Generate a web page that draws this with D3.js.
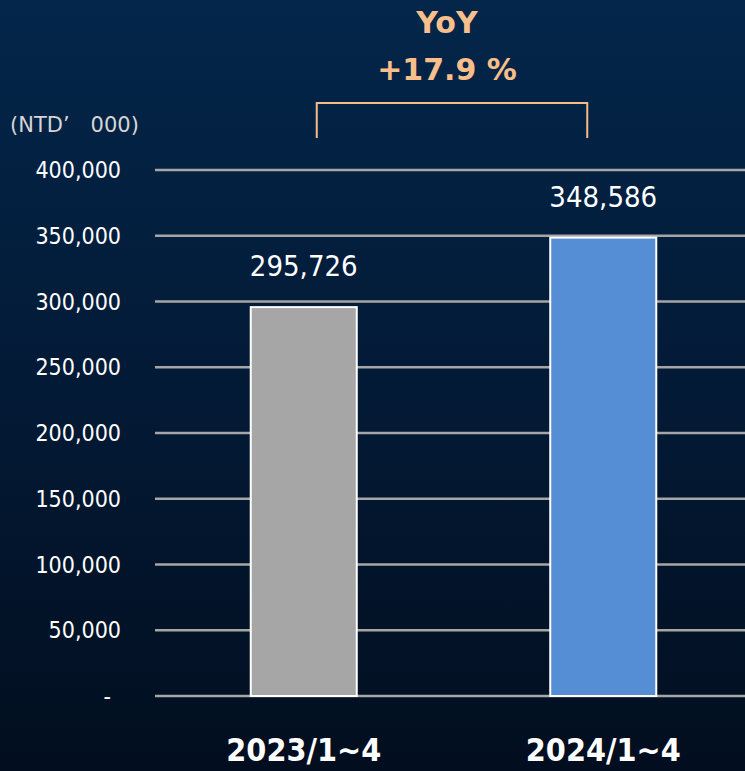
<!DOCTYPE html>
<html><head><meta charset="utf-8">
<script src="https://cdn.jsdelivr.net/npm/d3@7"></script>
<style>
html,body{margin:0;padding:0;background:#020e1f;}
svg{display:block;}
</style></head>
<body>
<svg id="chart" width="745" height="771"></svg>
<script>
const categories = ["2023/1~4", "2024/1~4"];
const values = [295726, 348586];
const barColors = ["#a6a6a6", "#558ed5"];
const tickValues = [0, 50000, 100000, 150000, 200000, 250000, 300000, 350000, 400000];
const yoyTitle = "YoY";
const yoyValue = "+17.9 %";
const unitLabel = "(NTD\u2019\u3000000)";

const W = 745, H = 771;
const svg = d3.select("#chart");
const font = "'DejaVu Sans Condensed','DejaVu Sans',sans-serif";
const fontWide = "'DejaVu Sans',sans-serif";

const defs = svg.append("defs");
const grad = defs.append("linearGradient").attr("id","bg").attr("x1",0).attr("y1",0).attr("x2",0).attr("y2",1);
grad.append("stop").attr("offset","0%").attr("stop-color","#03264a");
grad.append("stop").attr("offset","50%").attr("stop-color","#031a36");
grad.append("stop").attr("offset","100%").attr("stop-color","#020e1f");
svg.append("rect").attr("width",W).attr("height",H).attr("fill","url(#bg)");

const x = d3.scaleBand().domain(categories).range([154, 753]).paddingInner(0.646).paddingOuter(0.323);
const y = d3.scaleLinear().domain([0, 400000]).range([696, 170]);

// gridlines
svg.append("g").selectAll("line").data(tickValues).join("line")
  .attr("x1", 155).attr("x2", W)
  .attr("y1", d => y(d)).attr("y2", d => y(d))
  .attr("stroke", "#a6a6a6").attr("stroke-width", 2.4);

// y axis labels
const fmt = d3.format(",");
svg.append("g").selectAll("text").data(tickValues).join("text")
  .attr("x", d => d === 0 ? 111 : 121)
  .attr("y", d => y(d))
  .attr("dy", "0.35em")
  .attr("text-anchor", "end")
  .attr("font-family", font).attr("font-size", 23)
  .attr("fill", "#ffffff")
  .text(d => d === 0 ? "-" : fmt(d));

// bars
svg.append("g").selectAll("rect").data(values).join("rect")
  .attr("x", (d,i) => x(categories[i]))
  .attr("y", d => y(d))
  .attr("width", x.bandwidth())
  .attr("height", d => y(0) - y(d))
  .attr("fill", (d,i) => barColors[i])
  .attr("stroke", "#ffffff").attr("stroke-width", 2);

// value labels
svg.append("g").selectAll("text").data(values).join("text")
  .attr("x", (d,i) => x(categories[i]) + x.bandwidth()/2)
  .attr("y", d => y(d) - 41)
  .attr("dy", "0.35em")
  .attr("text-anchor", "middle")
  .attr("font-family", font).attr("font-size", 29)
  .attr("fill", "#ffffff")
  .text(d => fmt(d));

// category labels
svg.append("g").selectAll("text").data(categories).join("text")
  .attr("x", d => x(d) + x.bandwidth()/2)
  .attr("y", 750)
  .attr("dy", "0.35em")
  .attr("text-anchor", "middle")
  .attr("font-family", font).attr("font-size", 32).attr("font-weight", "bold")
  .attr("fill", "#ffffff")
  .text(d => d);

// unit label
svg.append("text").attr("x", 10).attr("y", 125).attr("dy","0.35em")
  .attr("font-family", fontWide).attr("font-size", 21)
  .attr("fill", "#d6d6d6").text(unitLabel);

// YoY bracket
const bx1 = x(categories[0]) + x.bandwidth()/2 + 13;
const bx2 = x(categories[1]) + x.bandwidth()/2 - 16;
svg.append("path")
  .attr("d", `M${bx1},138 V103 H${bx2} V138`)
  .attr("fill","none").attr("stroke","#f7bb88").attr("stroke-width",2);

const cx = (bx1 + bx2) / 2 - 5;
svg.append("text").attr("x", cx).attr("y", 22).attr("dy","0.35em")
  .attr("text-anchor","middle").attr("font-family", fontWide).attr("font-size", 30).attr("font-weight","bold")
  .attr("fill","#f9bf8b").text(yoyTitle);
svg.append("text").attr("x", cx).attr("y", 69).attr("dy","0.35em")
  .attr("text-anchor","middle").attr("font-family", fontWide).attr("font-size", 30).attr("font-weight","bold")
  .attr("fill","#f9bf8b").text(yoyValue);
</script>
</body></html>
